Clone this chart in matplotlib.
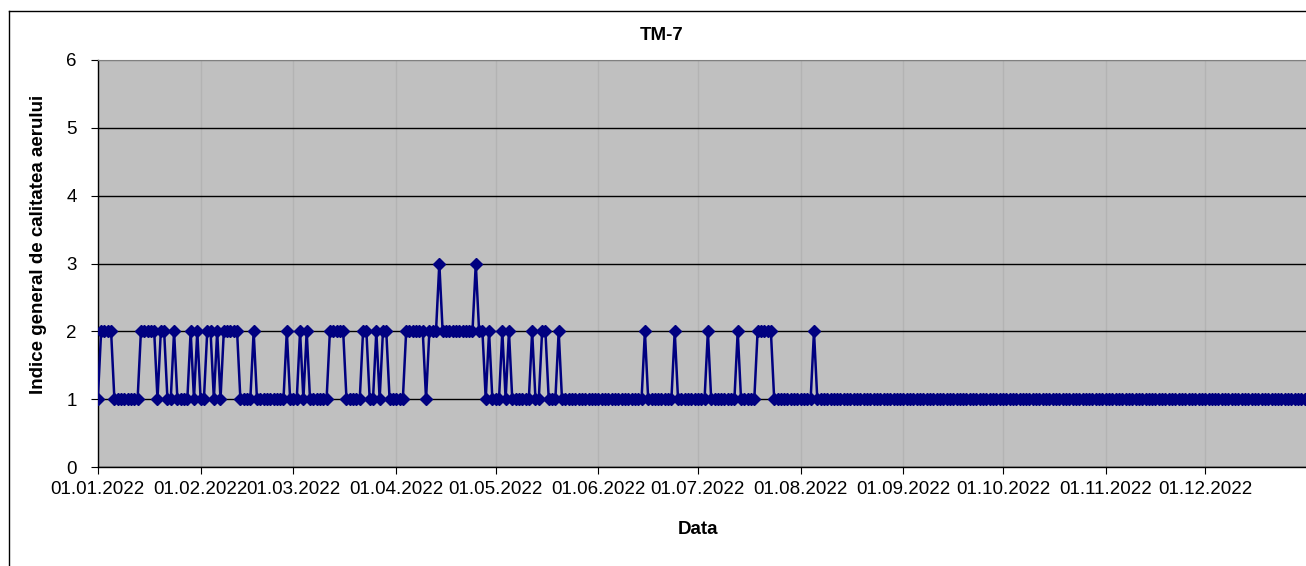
import numpy as np
import pandas as pd
import matplotlib
matplotlib.use('Agg')
import matplotlib.pyplot as plt
import matplotlib.dates as mdates
from matplotlib.lines import Line2D

plt.rcParams['font.family'] = ['Liberation Sans', 'DejaVu Sans']

# daily air quality index for TM-7, one digit per day, per month
jan = "1" "2222" "11111111" "22222" "1" "22" "11" "2" "1111" "2" "1" "2"
feb = "11" "22" "1" "2" "1" "22222" "1111" "2" "111111111" "2" "1"
mar = "11" "2" "1" "2" "111111" "22222" "11111" "22" "11" "2" "1" "22" "11"
apr = "111" "222222" "1" "222" "3" "2222222222" "3" "22" "1" "2" "1"
may = "11" "2" "1" "2" "111111" "2" "11" "22" "111" "2" "11111111111"
jun = "11111111111111" "2" "11111111" "2" "111111"
jul = "111" "2" "11111111" "2" "11111" "22222" "11111111"
aug = "1111" "2" "11111111111111111111111111"
sep = "111111111111111111111111111111"
oct_ = "1111111111111111111111111111111"
nov = "111111111111111111111111111111"
dec = "1111111111111111111111111111111"

months = [jan, feb, mar, apr, may, jun, jul, aug, sep, oct_, nov, dec]
values = np.array([int(c) for m in months for c in m])
dates = pd.date_range('2022-01-01', periods=len(values), freq='D')

fig = plt.figure(figsize=(13.06, 5.66), dpi=100)
ax = fig.add_axes([0.0749, 0.1749, 0.9251, 0.7191])
ax.set_facecolor('#c0c0c0')

ax.plot(dates, values, '-', color='#000080', linewidth=1.8, marker='D',
        markersize=6.5, markerfacecolor='#000080', markeredgecolor='#000080', zorder=3)

ax.set_ylim(0, 6)
ax.set_xlim(dates[0], dates[0] + pd.Timedelta(days=364.4))
ax.set_yticks(range(7))
ax.xaxis.set_major_locator(mdates.MonthLocator())
ax.xaxis.set_major_formatter(mdates.DateFormatter('%d.%m.%Y'))

ax.yaxis.grid(True, color='black', linewidth=1)
ax.xaxis.grid(True, color='#b3b3b3', linewidth=1)
ax.get_ygridlines()[-1].set_color('#808080')
ax.set_axisbelow(True)

for s in ['left', 'bottom']:
    ax.spines[s].set_color('black')
    ax.spines[s].set_linewidth(1)
ax.spines['top'].set_color('#808080')
ax.spines['right'].set_visible(False)

ax.tick_params(axis='y', length=5, pad=10, labelsize=13.5, direction='out')
ax.tick_params(axis='x', length=5, pad=5, labelsize=13.5, direction='out')

fig.text(662 / 1306, 1 - 36 / 566, 'TM-7', ha='center', va='center',
         fontsize=13.5, fontweight='bold')
fig.text(698 / 1306, 1 - 530 / 566, 'Data', ha='center', va='center',
         fontsize=13.5, fontweight='bold')
fig.text(39 / 1306, 1 - 244 / 566, 'Indice general de calitatea aerului',
         ha='center', va='center', rotation=90, fontsize=13.5, fontweight='bold')

# outer chart border
fig.add_artist(Line2D([9 / 1306, 9 / 1306], [0, 1 - 11 / 566], color='black',
                      linewidth=1, transform=fig.transFigure))
fig.add_artist(Line2D([9 / 1306, 1], [1 - 11 / 566, 1 - 11 / 566], color='black',
                      linewidth=1, transform=fig.transFigure))

fig.savefig('out.png', dpi=100)
